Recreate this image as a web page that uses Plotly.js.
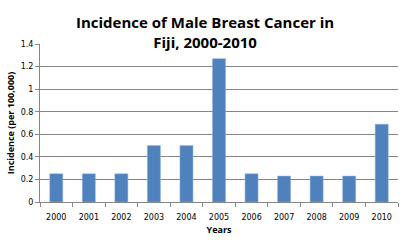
<!DOCTYPE html>
<html><head><meta charset="utf-8">
<script src="https://cdn.plot.ly/plotly-3.0.1.min.js"></script>
<style>html,body{margin:0;padding:0;background:#fff}#c{width:408px;height:241px}</style>
</head><body><div id="c"></div>
<script>
const years = ['2000','2001','2002','2003','2004','2005','2006','2007','2008','2009','2010'];
const incidence = [0.25,0.25,0.25,0.5,0.5,1.27,0.25,0.23,0.23,0.23,0.69];
const yTicks = [0,0.2,0.4,0.6,0.8,1,1.2,1.4];
const yTickLabels = ['0','0.2','0.4','0.6','0.8','1','1.2','1.4'];
const titleText = 'Incidence of Male Breast Cancer in<br>Fiji, 2000-2010';

Plotly.newPlot('c', [{
  type:'bar', x:years, y:incidence, width:0.4,
  marker:{color:'#4F81BD', line:{color:'#8FB0DA', width:0.5}}
}], {
  width:408, height:241,
  margin:{l:40,r:10,t:44,b:39},
  paper_bgcolor:'#fff', plot_bgcolor:'#fff',
  showlegend:false,
  annotations:[{text:'<b>'+titleText+'</b>', xref:'paper', yref:'paper', x:0.46, y:1.215, xanchor:'center', yanchor:'top',
    showarrow:false, font:{family:'Open Sans, Liberation Sans, sans-serif', size:15, color:'#000'}}],
  xaxis:{type:'category', showgrid:false, showline:true, linecolor:'#868686', linewidth:1,
    ticks:'outside', ticklen:4, tickcolor:'#868686', tickson:'boundaries', ticklabelstandoff:7,
    tickfont:{family:'DejaVu Sans, Verdana, sans-serif', size:8, color:'#000'},
    title:{text:'<b>Years</b>', standoff:6, font:{family:'Open Sans, Liberation Sans, sans-serif', size:9, color:'#000'}}},
  yaxis:{range:[0,1.4], tickvals:yTicks, ticktext:yTickLabels, showgrid:true, gridcolor:'#868686', gridwidth:1,
    showline:true, linecolor:'#868686', ticks:'outside', ticklen:4, tickcolor:'#868686', zeroline:false,
    tickfont:{family:'DejaVu Sans, Verdana, sans-serif', size:8, color:'#000'},
    title:{text:'<b>Incidence (per 100,000)</b>', standoff:4, font:{family:'Open Sans, Liberation Sans, sans-serif', size:9, color:'#000'}}},
  bargap:0.6
}, {displayModeBar:false, staticPlot:true});
</script></body></html>
